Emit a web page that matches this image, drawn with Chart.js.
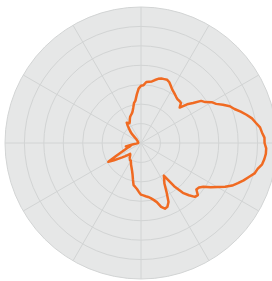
<!DOCTYPE html>
<html>
<head>
<meta charset="utf-8">
<script src="https://cdn.jsdelivr.net/npm/chart.js@4/dist/chart.umd.min.js"></script>
<style>
html,body{margin:0;padding:0;background:#fff;overflow:hidden;width:272px;height:281px;}
canvas{display:block;}
</style>
</head>
<body>
<canvas id="c" width="282" height="286"></canvas>
<script>
// Angles in degrees, clockwise from top (2.5° steps)
const angles = [];
for (let a = 0; a < 360; a += 2.5) angles.push(a);

// Radius values (in grid-ring units, 0..7)
const radii = [
  2.95, 2.98, 3.15, 3.18, 3.22, 3.32, 3.42, 3.48, 3.50, 3.52,
  3.45, 3.32, 3.20, 3.12, 3.05, 2.98, 2.93, 2.93, 2.91, 2.70,
  3.10, 3.38, 3.78, 3.92, 4.20, 4.36, 4.65, 4.95, 5.12, 5.38,
  5.62, 5.85, 6.00, 6.18, 6.25, 6.36, 6.36, 6.45, 6.45, 6.40,
  6.33, 6.15, 6.05, 5.82, 5.62, 5.40, 5.18, 4.88, 4.52, 4.25,
  3.92, 3.76, 3.72, 3.97, 3.92, 3.65, 3.35, 2.80, 2.05, 2.22,
  2.41, 2.85, 3.35, 3.55, 3.60, 3.45, 3.15, 3.00, 2.88, 2.80,
  2.75, 2.70, 2.66, 2.52, 2.38, 2.28, 2.20, 1.92, 1.68, 1.52,
  1.40, 1.30, 1.22, 1.12, 1.05, 1.05, 1.00, 0.95, 0.88, 0.82,
  0.79, 0.90, 1.05, 1.22, 1.40, 1.65, 1.94, 1.45, 1.10, 0.90,
  0.75, 0.62, 0.55, 0.80, 0.45, 0.25, 0.20, 0.18, 0.15, 0.15,
  0.14, 0.14, 0.15, 0.15, 0.16, 0.16, 0.17, 0.18, 0.18, 0.19,
  0.20, 0.22, 0.25, 0.28, 0.32, 0.45, 0.68, 0.82, 0.95, 1.12,
  1.28, 1.22, 1.18, 1.25, 1.36, 1.46, 1.52, 1.58, 1.68, 1.85,
  2.08, 2.20, 2.50, 2.80
];

const ringTicks = [0, 1, 2, 3, 4, 5, 6, 7];
const spokeEvery = 30; // degrees between spokes

const labels = angles.map(a => a + '°');
const GRID = '#d2d4d4';

new Chart(document.getElementById('c'), {
  type: 'radar',
  data: {
    labels: labels,
    datasets: [{
      data: radii,
      borderColor: '#f06a22',
      borderWidth: 2.5,
      borderJoinStyle: 'round',
      borderCapStyle: 'round',
      fill: false,
      pointRadius: 0,
      pointHoverRadius: 0,
      tension: 0
    }]
  },
  options: {
    responsive: false,
    animation: false,
    devicePixelRatio: 1,
    layout: { padding: 5 },
    plugins: { legend: { display: false }, tooltip: { enabled: false } },
    scales: {
      r: {
        min: ringTicks[0],
        max: ringTicks[ringTicks.length - 1],
        backgroundColor: '#e6e7e7',
        ticks: { display: false, stepSize: 1 },
        pointLabels: { display: false },
        grid: { circular: true, color: GRID, lineWidth: 1 },
        angleLines: {
          display: true,
          color: GRID,
          lineWidth: (ctx) => (angles[ctx.index] % spokeEvery === 0 ? 1 : 0)
        }
      }
    }
  }
});
</script>
</body>
</html>
